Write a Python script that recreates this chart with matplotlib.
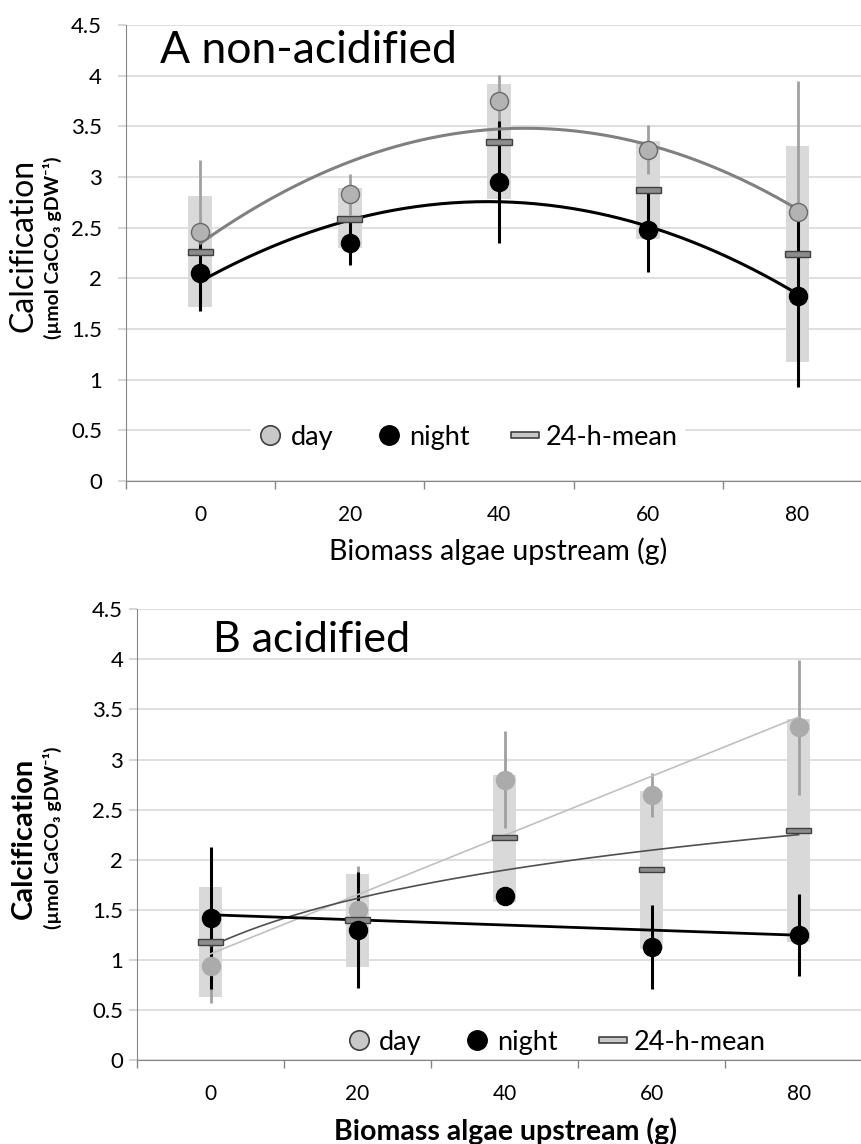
import numpy as np
import matplotlib.pyplot as plt
from matplotlib.lines import Line2D
from matplotlib.path import Path

plt.rcParams['font.family'] = ['Lato', 'DejaVu Sans']

cats = ['0', '20', '40', '60', '80']
ytick_labels = ['0', '0.5', '1', '1.5', '2', '2.5', '3', '3.5', '4', '4.5']
yticks = [0, 0.5, 1, 1.5, 2, 2.5, 3, 3.5, 4, 4.5]

# A non-acidified
day_a = [2.46, 2.83, 3.75, 3.27, 2.66]
day_a_err = [0.71, 0.20, 0.26, 0.24, 1.29]
night_a = [2.05, 2.35, 2.95, 2.48, 1.83]
night_a_err = [0.37, 0.22, 0.60, 0.42, 0.90]
mean_a = [2.26, 2.59, 3.35, 2.87, 2.24]
lo_a = [1.72, 2.30, 2.78, 2.39, 1.17]
hi_a = [2.81, 2.89, 3.92, 3.36, 3.31]

# B acidified
day_b = [0.94, 1.50, 2.80, 2.65, 3.32]
day_b_err = [0.37, 0.44, 0.48, 0.22, 0.67]
night_b = [1.42, 1.30, 1.64, 1.13, 1.25]
night_b_err = [0.71, 0.58, 0.0, 0.42, 0.41]
mean_b = [1.18, 1.40, 2.22, 1.90, 2.29]
lo_b = [0.63, 0.93, 1.58, 1.11, 1.18]
hi_b = [1.73, 1.86, 2.85, 2.69, 3.40]

x = np.arange(len(cats))
xs = np.linspace(0, len(cats) - 1, 200)

rect = Path([(-1, -0.22), (1, -0.22), (1, 0.22), (-1, 0.22), (-1, -0.22)],
            [Path.MOVETO, Path.LINETO, Path.LINETO, Path.LINETO, Path.CLOSEPOLY])

fig = plt.figure(figsize=(8.62, 11.44), dpi=100)
ax1 = fig.add_axes([0.1458, 0.5795, 0.866, 0.3986])
ax2 = fig.add_axes([0.159, 0.0734, 0.8527, 0.394])


def style_axes(ax, ypad):
    ax.set_xlim(-0.5, 4.5)
    ax.set_ylim(0, 4.5)
    ax.set_yticks(yticks, labels=ytick_labels)
    ax.set_xticks(np.arange(-0.5, 5, 1), labels=[''] * 6)
    ax.set_xticks(x, labels=cats, minor=True)
    ax.tick_params(axis='x', which='major', length=6, color='#868686', width=1)
    ax.tick_params(axis='x', which='minor', length=0, pad=17, labelsize=15)
    ax.tick_params(axis='y', length=6, color='#d0d0d0', width=1.2, pad=ypad, labelsize=16)
    for s in ['top', 'right']:
        ax.spines[s].set_visible(False)
    ax.spines['left'].set_color('#868686')
    ax.spines['bottom'].set_color('#868686')
    ax.yaxis.grid(True, color='#d9d9d9', lw=1.2)
    ax.set_axisbelow(True)


style_axes(ax1, 11)
style_axes(ax2, 4)

# panel A
ax1.bar(x, np.subtract(hi_a, lo_a), bottom=lo_a, width=0.16, color='#d9d9d9', zorder=1)
ax1.errorbar(x, day_a, yerr=day_a_err, fmt='none', ecolor='#a0a0a0', elinewidth=2, zorder=2)
ax1.errorbar(x, night_a, yerr=night_a_err, fmt='none', ecolor='black', elinewidth=2.2, zorder=3)
ax1.plot(xs, np.polyval(np.polyfit(x, day_a, 2), xs), color='#808080', lw=2.2, zorder=4)
ax1.plot(xs, np.polyval(np.polyfit(x, night_a, 2), xs), color='black', lw=2.2, zorder=4)
ax1.bar(x, 0.06, bottom=np.subtract(mean_a, 0.03), width=0.17, color='#8c8c8c',
        edgecolor='#404040', lw=1, zorder=5)
ax1.plot(x, day_a, 'o', ms=13, mfc='#b3b3b3', mec='#6a6a6a', mew=1, zorder=6)
ax1.plot(x, night_a, 'o', ms=13, mfc='black', mec='black', zorder=7)
ax1.text(0.046, 0.917, 'A non-acidified', transform=ax1.transAxes, fontsize=32,
         va='baseline', ha='left')

# panel B
ax2.bar(x, np.subtract(hi_b, lo_b), bottom=lo_b, width=0.16, color='#d9d9d9', zorder=1)
ax2.errorbar(x, day_b, yerr=day_b_err, fmt='none', ecolor='#a0a0a0', elinewidth=2, zorder=2)
ax2.errorbar(x, night_b, yerr=night_b_err, fmt='none', ecolor='black', elinewidth=2.2, zorder=3)
ax2.plot(x, day_b, 'o', ms=13, mfc='#ababab', mec='#ababab', zorder=4)
ax2.plot(xs, np.polyval(np.polyfit(x, day_b, 1), xs), color='#c0c0c0', lw=1.2, zorder=5)
log_fit = np.polyfit(np.log(x + 1), mean_b, 1)
ax2.plot(xs, np.polyval(log_fit, np.log(xs + 1)), color='#505050', lw=1.2, zorder=5)
ax2.plot(xs, np.polyval(np.polyfit(x, night_b, 1), xs), color='black', lw=2, zorder=5)
ax2.bar(x, 0.055, bottom=np.subtract(mean_b, 0.0275), width=0.17, color='#8c8c8c',
        edgecolor='#404040', lw=1, zorder=6)
ax2.plot(x, night_b, 'o', ms=13, mfc='black', mec='black', zorder=7)
ax2.text(0.103, 0.906, 'B acidified', transform=ax2.transAxes, fontsize=31,
         va='baseline', ha='left')

# legends
handles = [
    Line2D([], [], ls='none', marker='o', ms=14, mfc='#c8c8c8', mec='#404040', mew=1.2),
    Line2D([], [], ls='none', marker='o', ms=14, mfc='black', mec='black'),
    Line2D([], [], ls='none', marker=rect, ms=20, mfc='#c8c8c8', mec='#404040', mew=1.2),
]
labels = ['day', 'night', '24-h-mean']
for ax, pos, frame in [(ax1, (0.4585, 0.0965), True), (ax2, (0.570, 0.04), False)]:
    leg = ax.legend(handles, labels, ncol=3, loc='center', bbox_to_anchor=pos,
                    fontsize=19.5, frameon=frame, fancybox=False, framealpha=1,
                    edgecolor='white', handlelength=0.9, handletextpad=0.3,
                    columnspacing=1.6, borderpad=0.25)
    leg.set_zorder(10)

# axis labels
fig.text(0.578, 1 - 560 / 1144, 'Biomass algae upstream (g)', fontsize=20.5,
         ha='center', va='baseline')
fig.text(0.586, 4 / 1144, 'Biomass algae upstream (g)', fontsize=20.5,
         fontweight='bold', ha='center', va='baseline')

fig.text(24 / 862, 1 - 245 / 1144, 'Calcification', rotation=90, fontsize=23,
         ha='center', va='center')
fig.text(52 / 862, 1 - 248 / 1144, '(µmol CaCO₃ gDW⁻¹)', rotation=90, fontsize=14,
         fontweight='bold', ha='center', va='center')
fig.text(24 / 862, 1 - 838 / 1144, 'Calcification', rotation=90, fontsize=21,
         fontweight='bold', ha='center', va='center')
fig.text(52 / 862, 1 - 838 / 1144, '(µmol CaCO₃ gDW⁻¹)', rotation=90, fontsize=14,
         fontweight='bold', ha='center', va='center')

fig.savefig('out.png', dpi=100)
